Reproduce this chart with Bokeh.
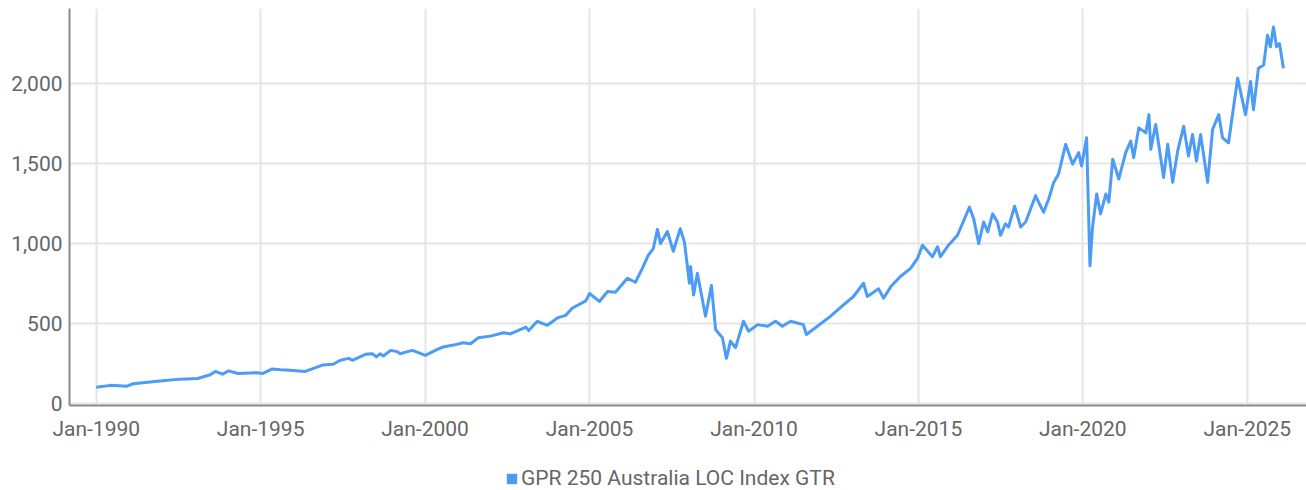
import pandas as pd
from bokeh.plotting import figure
from bokeh.layouts import column
from bokeh.models import (Range1d, FixedTicker, DatetimeTickFormatter, Legend, LegendItem,
                          NumeralTickFormatter, ColumnDataSource)
from bokeh.embed import file_html
from bokeh.resources import INLINE

series_name = "GPR 250 Australia LOC Index GTR"

dates = [
    "1990-01-01", "1990-06-10", "1990-12-10", "1991-02-15", "1991-11-10", "1992-07-20",
    "1993-02-01", "1993-06-20", "1993-08-15", "1993-11-05", "1994-01-10", "1994-04-25",
    "1994-11-25", "1995-01-20", "1995-05-10", "1995-08-10", "1995-11-25", "1996-05-10",
    "1996-11-25", "1997-03-15", "1997-06-05", "1997-09-05", "1997-10-15", "1998-03-10",
    "1998-05-25", "1998-07-10", "1998-08-20", "1998-09-25", "1998-12-15", "1999-02-25",
    "1999-04-01", "1999-06-20", "1999-08-15", "2000-01-05", "2000-05-15", "2000-07-20",
    "2000-11-10", "2001-03-01", "2001-05-20", "2001-08-15", "2001-12-28", "2002-05-20",
    "2002-08-05", "2003-01-25", "2003-02-25", "2003-06-01", "2003-09-20", "2004-01-10",
    "2004-04-10", "2004-06-25", "2004-11-20", "2005-01-01", "2005-04-20", "2005-07-20",
    "2005-10-15", "2006-02-25", "2006-05-25", "2006-08-10", "2006-10-15", "2006-12-10",
    "2007-01-25", "2007-02-28", "2007-05-15", "2007-07-20", "2007-10-05", "2007-11-20",
    "2008-01-15", "2008-01-28", "2008-03-01", "2008-04-12", "2008-07-12", "2008-09-15",
    "2008-11-01", "2009-01-15", "2009-03-01", "2009-04-15", "2009-06-10", "2009-09-06",
    "2009-11-03", "2010-02-10", "2010-06-01", "2010-08-28", "2010-11-12", "2011-02-12",
    "2011-07-03", "2011-08-06", "2011-12-06", "2012-04-28", "2012-09-21", "2013-01-10",
    "2013-05-01", "2013-06-13", "2013-10-15", "2013-12-10", "2014-03-01", "2014-06-15",
    "2014-10-06", "2014-12-22", "2015-02-15", "2015-06-06", "2015-08-01", "2015-09-03",
    "2015-12-01", "2016-03-10", "2016-05-03", "2016-07-21", "2016-09-06", "2016-11-01",
    "2016-12-25", "2017-02-09", "2017-04-04", "2017-05-28", "2017-07-01", "2017-08-25",
    "2017-09-28", "2017-12-04", "2018-02-10", "2018-04-06", "2018-07-25", "2018-08-28",
    "2018-10-22", "2018-12-18", "2019-02-12", "2019-04-06", "2019-06-24", "2019-09-10",
    "2019-11-15", "2019-12-18", "2020-02-12", "2020-03-20", "2020-04-18", "2020-06-03",
    "2020-07-16", "2020-09-12", "2020-10-16", "2020-11-28", "2021-02-03", "2021-04-21",
    "2021-06-16", "2021-07-19", "2021-09-13", "2021-12-01", "2022-01-04", "2022-01-25",
    "2022-03-20", "2022-06-16", "2022-08-01", "2022-09-25", "2022-11-19", "2023-01-25",
    "2023-03-19", "2023-05-03", "2023-06-16", "2023-08-01", "2023-10-18", "2023-12-12",
    "2024-02-18", "2024-04-01", "2024-06-06", "2024-09-15", "2024-12-12", "2025-02-06",
    "2025-03-10", "2025-05-04", "2025-07-01", "2025-08-13", "2025-09-15", "2025-10-18",
    "2025-11-21", "2025-12-24", "2026-02-06",
]

values = [
    100, 112, 107, 122, 137, 151,
    155, 178, 199, 182, 203, 186,
    191, 186, 215, 209, 206, 199,
    240, 244, 269, 281, 269, 306,
    310, 290, 310, 296, 331, 323,
    310, 323, 331, 300, 337, 352,
    364, 379, 372, 410, 420, 441,
    434, 476, 455, 513, 488, 534,
    550, 596, 641, 687, 637, 699,
    695, 782, 757, 844, 927, 968,
    1088, 999, 1075, 951, 1092, 1010,
    751, 855, 678, 813, 544, 737,
    461, 410, 281, 389, 348, 513,
    451, 492, 482, 513, 482, 513,
    492, 430, 482, 544, 616, 668,
    751, 668, 716, 658, 730, 793,
    844, 906, 989, 917, 979, 917,
    989, 1051, 1123, 1227, 1154, 999,
    1134, 1072, 1185, 1134, 1051, 1123,
    1103, 1233, 1103, 1134, 1299, 1258,
    1196, 1278, 1382, 1434, 1620, 1496,
    1568, 1485, 1661, 860, 1103, 1309,
    1185, 1309, 1258, 1527, 1403, 1568,
    1640, 1537, 1723, 1692, 1806, 1589,
    1744, 1413, 1620, 1382, 1578, 1733,
    1547, 1682, 1516, 1682, 1382, 1713,
    1806, 1661, 1630, 2034, 1806, 2013,
    1837, 2096, 2116, 2302, 2230, 2354,
    2230, 2251, 2096,
]

x_tick_years = [1990, 1995, 2000, 2005, 2010, 2015, 2020, 2025]
y_ticks = [0, 500, 1000, 1500, 2000]

LINE_COLOR = "#4C9BF6"
GRID_COLOR = "#e5e5e5"
AXIS_COLOR = "#8a8a8a"
TEXT_COLOR = "#666666"
FONT = "Roboto"
FONT_SIZE = "21px"

source = ColumnDataSource(dict(date=pd.to_datetime(dates), value=values))

p = figure(width=1306, height=443, x_axis_type="datetime", output_backend="svg",
           toolbar_location=None,
           x_range=Range1d(pd.Timestamp("1989-03-10"), pd.Timestamp("2026-10-20")),
           y_range=Range1d(-14, 2470),
           min_border_left=69, min_border_right=0, min_border_top=8, min_border_bottom=35)
p.outline_line_color = None
p.background_fill_color = "white"

p.line(x="date", y="value", source=source, line_width=3, line_color=LINE_COLOR,
       line_join="round")

tick_ms = [pd.Timestamp(f"{y}-01-01").value / 1e6 for y in x_tick_years]
p.xaxis.ticker = FixedTicker(ticks=tick_ms)
fmt = "%b-%Y"
p.xaxis.formatter = DatetimeTickFormatter(years=fmt, months=fmt, days=fmt, hours=fmt,
                                          minutes=fmt, seconds=fmt, milliseconds=fmt,
                                          microseconds=fmt, hourmin=fmt, minsec=fmt)
p.yaxis.ticker = FixedTicker(ticks=y_ticks)
p.yaxis.formatter = NumeralTickFormatter(format="0,0")

for ax in (p.xaxis[0], p.yaxis[0]):
    ax.axis_line_color = AXIS_COLOR
    ax.axis_line_width = 2
    ax.major_tick_line_color = None
    ax.minor_tick_line_color = None
    ax.major_tick_out = 0
    ax.major_tick_in = 0
    ax.major_label_text_font = FONT
    ax.major_label_text_font_size = FONT_SIZE
    ax.major_label_text_color = TEXT_COLOR
p.xaxis.major_label_standoff = 11
p.yaxis.major_label_standoff = 7

p.xgrid.grid_line_color = GRID_COLOR
p.xgrid.grid_line_width = 2
p.ygrid.grid_line_color = GRID_COLOR
p.ygrid.grid_line_width = 2

# separate strip holding the legend below the chart
leg = figure(width=1306, height=47, output_backend="svg", toolbar_location=None,
             x_axis_location=None, y_axis_location=None,
             x_range=Range1d(0, 1), y_range=Range1d(0, 1),
             min_border_left=0, min_border_right=0, min_border_top=0, min_border_bottom=0)
leg.outline_line_color = None
leg.xgrid.visible = False
leg.ygrid.visible = False
# proxy renderer for the square legend swatch (kept outside the strip's visible range)
swatch = leg.quad(left=[2], right=[3], top=[3], bottom=[2],
                  fill_color=LINE_COLOR, line_color=None)

legend = Legend(items=[LegendItem(label=series_name, renderers=[swatch])],
                location=(436, 0), orientation="horizontal",
                glyph_width=13, glyph_height=13, label_standoff=3,
                label_text_font=FONT, label_text_font_size=FONT_SIZE,
                label_text_color=TEXT_COLOR, label_height=22,
                padding=0, margin=0, spacing=0,
                border_line_color=None, background_fill_alpha=0)
leg.add_layout(legend, "center")

layout = column(p, leg, spacing=0)

open("out.html", "w").write(file_html(layout, INLINE))
